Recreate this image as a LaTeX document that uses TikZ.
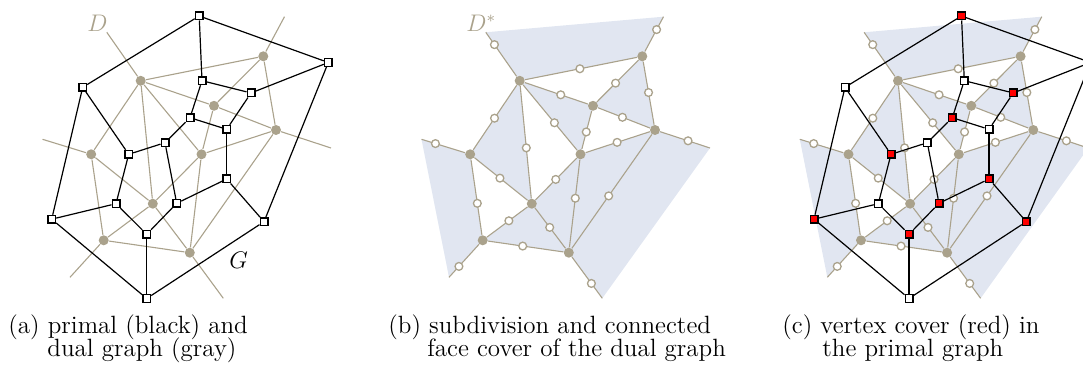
\documentclass[tikz,border=0pt]{standalone}
\usepackage{xcolor}
\definecolor{dualc}{RGB}{170,162,140}
\definecolor{shadec}{RGB}{225,230,241}
\definecolor{redv}{RGB}{255,0,0}
\pgfdeclarelayer{background}
\pgfsetlayers{background,main}
\tikzset{
 pv/.style={draw=black, line width=0.7pt, fill=white, rectangle, minimum size=3.8pt, inner sep=0pt},
 pvred/.style={pv, fill=redv},
 dv/.style={circle, fill=dualc, minimum size=5pt, inner sep=0pt},
 sv/.style={circle, draw=dualc, fill=white, line width=0.65pt, minimum size=3.9pt, inner sep=0pt},
 nosub/.style={inner sep=0pt, minimum size=0pt},
 pe/.style={draw=black, line width=0.6pt},
 de/.style={draw=dualc, line width=0.55pt},
 faceshade/.style={fill=shadec, draw=none},
 lbl/.style={inner sep=0pt, anchor=base west, font=\fontsize{12}{14}\selectfont},
 captxt/.style={inner sep=0pt, anchor=base west, font=\fontsize{12.5}{14}\selectfont},
}
\newcommand{\dualnodes}{%
 \node[dv] (D1) at (140.7,80.8) {};
 \node[dv] (D2) at (263.3,56.3) {};
 \node[dv] (D3) at (214,105.8) {};
 \node[dv] (D4) at (276,130) {};
 \node[dv] (D5) at (91.2,154.3) {};
 \node[dv] (D6) at (201.5,154.3) {};
 \node[dv] (D7) at (152.8,203.7) {};
 \node[dv] (D8) at (103.7,240.3) {};
 \node[dv] (D9) at (189.8,252.7) {};
 \coordinate (R1) at (106.8,32.3);
 \coordinate (R2) at (284.5,16.7);
 \coordinate (R4) at (331,148);
 \coordinate (R5) at (42.5,139.3);
 \coordinate (R8) at (70,277.3);
 \coordinate (R9) at (223.3,298.3);
}
\newcommand{\dualedges}[1]{%
 \draw[de] (D1) -- node[#1,pos=0.49]{} (D2);
 \draw[de] (D2) -- node[#1,pos=0.55]{} (D3);
 \draw[de] (D2) -- node[#1,pos=0.49]{} (D4);
 \draw[de] (D1) -- node[#1,pos=0.57]{} (D3);
 \draw[de] (D3) -- node[#1,pos=0.47]{} (D4);
 \draw[de] (D1) -- node[#1,pos=0.51]{} (D5);
 \draw[de] (D1) -- node[#1,pos=0.58]{} (D6);
 \draw[de] (D3) -- node[#1,pos=0.55]{} (D6);
 \draw[de] (D1) -- node[#1,pos=0.55]{} (D7);
 \draw[de] (D4) -- node[#1,pos=0.51]{} (D6);
 \draw[de] (D5) -- node[#1,pos=0.48]{} (D7);
 \draw[de] (D6) -- node[#1,pos=0.51]{} (D7);
 \draw[de] (D5) -- node[#1,pos=0.58]{} (D8);
 \draw[de] (D4) -- node[#1,pos=0.54]{} (D9);
 \draw[de] (D6) -- node[#1,pos=0.44]{} (D9);
 \draw[de] (D7) -- node[#1,pos=0.46]{} (D8);
 \draw[de] (D7) -- node[#1,pos=0.48]{} (D9);
 \draw[de] (D8) -- node[#1,pos=0.46]{} (D9);
 \draw[de] (D1) -- node[#1,pos=0.72]{} (R1);
 \draw[de] (D2) -- node[#1,pos=0.63]{} (R2);
 \draw[de] (D4) -- node[#1,pos=0.56]{} (R4);
 \draw[de] (D5) -- node[#1,pos=0.68]{} (R5);
 \draw[de] (D8) -- node[#1,pos=0.67]{} (R8);
 \draw[de] (D9) -- node[#1,pos=0.64]{} (R9);
}
\newcommand{\coverfaces}{%
 \begin{pgfonlayer}{background}
 \fill[faceshade] (R1) -- (R2) -- (D2.center) -- (D1.center) -- cycle;
 \fill[faceshade] (R5) -- (D5.center) -- (D8.center) -- (R8) -- cycle;
 \fill[faceshade] (R4) -- (D4.center) -- (D9.center) -- (R9) -- cycle;
 \fill[faceshade] (D2.center) -- (D3.center) -- (D4.center) -- cycle;
 \fill[faceshade] (D1.center) -- (D3.center) -- (D6.center) -- cycle;
 \fill[faceshade] (D1.center) -- (D5.center) -- (D7.center) -- cycle;
 \fill[faceshade] (D4.center) -- (D6.center) -- (D9.center) -- cycle;
 \fill[faceshade] (D6.center) -- (D7.center) -- (D9.center) -- cycle;
 \fill[faceshade] (D7.center) -- (D8.center) -- (D9.center) -- cycle;
 \end{pgfonlayer}
}
\newcommand{\primalgraph}{%
 \node[cov] (P1) at (199.2,16) {};
 \node[pv] (P2) at (328.3,62.5) {};
 \node[pv] (P3) at (82.7,87.3) {};
 \node[pv] (P4) at (202,80.7) {};
 \node[cov] (P5) at (251,93) {};
 \node[cov] (P6) at (190,117.7) {};
 \node[pv] (P7) at (226.7,129.3) {};
 \node[pv] (P8) at (165,142.7) {};
 \node[cov] (P9) at (128.7,154.3) {};
 \node[cov] (P10) at (226.7,179) {};
 \node[pv] (P11) at (116,203.7) {};
 \node[cov] (P12) at (176.7,203.3) {};
 \node[cov] (P13) at (51.7,219.2) {};
 \node[cov] (P14) at (146.7,234.3) {};
 \node[cov] (P15) at (264,221.7) {};
 \node[pv] (P16) at (146.7,298.5) {};
 \draw[pe] (P1) -- (P3);
 \draw[pe] (P1) -- (P2);
 \draw[pe] (P1) -- (P4);
 \draw[pe] (P2) -- (P5);
 \draw[pe] (P2) -- (P15);
 \draw[pe] (P3) -- (P13);
 \draw[pe] (P3) -- (P9);
 \draw[pe] (P4) -- (P5);
 \draw[pe] (P4) -- (P6);
 \draw[pe] (P5) -- (P7);
 \draw[pe] (P6) -- (P7);
 \draw[pe] (P6) -- (P8);
 \draw[pe] (P7) -- (P10);
 \draw[pe] (P8) -- (P9);
 \draw[pe] (P8) -- (P12);
 \draw[pe] (P9) -- (P11);
 \draw[pe] (P11) -- (P13);
 \draw[pe] (P11) -- (P14);
 \draw[pe] (P12) -- (P14);
 \draw[pe] (P12) -- (P10);
 \draw[pe] (P10) -- (P15);
 \draw[pe] (P13) -- (P16);
 \draw[pe] (P14) -- (P16);
 \draw[pe] (P15) -- (P16);
}
\begin{document}
\begin{tikzpicture}[x=0.5pt, y=-0.5pt]
\clip (0,0) rectangle (1083,373);
% panel (a)
\begin{scope}[name prefix=a-, cov/.style={pv}]
 \dualnodes
 \dualedges{nosub}
 \primalgraph
 \node[lbl, text=dualc] (labD) at (87,31.5) {$D$};
 \node[lbl] (labG) at (229,268.3) {$G$};
\end{scope}
% panel (b)
\begin{scope}[shift={(379,0)}, name prefix=b-]
 \dualnodes
 \coverfaces
 \dualedges{sv}
 \node[lbl, text=dualc] (labD) at (87,31.5) {$D^*$};
\end{scope}
% panel (c)
\begin{scope}[shift={(757.3,0)}, name prefix=c-]
 \dualnodes
 \coverfaces
 \dualedges{sv}
\end{scope}
\begin{scope}[shift={(762.3,0)}, name prefix=cp-, cov/.style={pvred}]
 \primalgraph
\end{scope}
% captions
\node[captxt] (ca1) at (8,334) {(a) primal (black) and};
\node[captxt] (ca2) at (47,357) {dual graph (gray)};
\node[captxt] (cb1) at (388,334) {(b) subdivision and connected};
\node[captxt] (cb2) at (427,357) {face cover of the dual graph};
\node[captxt] (cc1) at (782,334) {(c) vertex cover (red) in};
\node[captxt] (cc2) at (822,357) {the primal graph};
\end{tikzpicture}
\end{document}
